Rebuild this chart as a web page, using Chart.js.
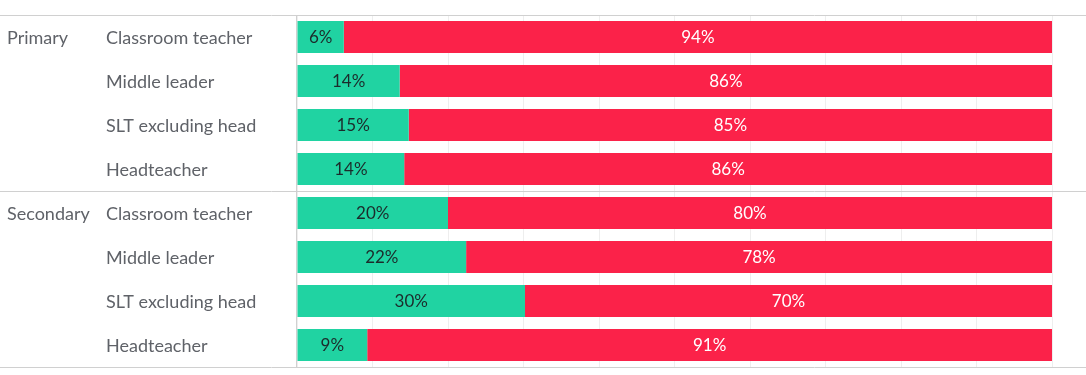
<!DOCTYPE html>
<html><head><meta charset="utf-8">
<script src="https://cdn.jsdelivr.net/npm/chart.js@4"></script>
<style>html,body{margin:0;padding:0;background:#fff}#wrap{width:1086px;height:375px;position:relative}</style>
</head><body><div id="wrap"><canvas id="c"></canvas></div>
<script>
const groups = ["Primary","Primary","Primary","Primary","Secondary","Secondary","Secondary","Secondary"];
const roles = ["Classroom teacher","Middle leader","SLT excluding head","Headteacher","Classroom teacher","Middle leader","SLT excluding head","Headteacher"];
const yesValues = [6.2,13.6,14.8,14.2,20.0,22.4,30.2,9.3];
const noValues = [93.8,86.4,85.2,85.8,80.0,77.6,69.8,90.7];
const xTicks = [0,10,20,30,40,50,60,70,80,90,100];

const FONT = "Lato, 'Open Sans', sans-serif";

const overlay = {
  id:'overlay',
  afterDatasetsDraw(chart){
    const ctx = chart.ctx, ca = chart.chartArea, ys = chart.scales.y;
    ctx.save();
    chart.data.datasets.forEach((ds,di)=>{
      const meta = chart.getDatasetMeta(di);
      meta.data.forEach((el,i)=>{
        const cx = (el.x + el.base)/2;
        ctx.font = "17px " + FONT;
        ctx.fillStyle = di===0 ? '#1c2b2b' : '#ffffff';
        ctx.textAlign='center'; ctx.textBaseline='middle';
        ctx.fillText(Math.round(ds.data[i]) + '%', cx, el.y+1);
      });
    });
    ctx.font = "18px " + FONT;
    ctx.fillStyle = '#5f6268';
    ctx.textAlign='left'; ctx.textBaseline='middle';
    roles.forEach((r,i)=>{
      const y = ys.getPixelForValue(i);
      ctx.fillText(r, 106, y+1.5);
      if(i===0 || groups[i]!==groups[i-1]) ctx.fillText(groups[i], 7, y+1.5);
    });
    ctx.strokeStyle = '#d0d0d0'; ctx.lineWidth = 1;
    const lines = [ca.top, ca.bottom];
    for(let i=1;i<groups.length;i++){ if(groups[i]!==groups[i-1]) lines.push((ys.getPixelForValue(i-1)+ys.getPixelForValue(i))/2); }
    lines.forEach(y=>{ const yy=Math.round(y)+0.5; ctx.beginPath(); ctx.moveTo(0,yy); ctx.lineTo(chart.width,yy); ctx.stroke(); });
    ctx.beginPath(); ctx.moveTo(Math.round(ca.left)-0.5, ca.top); ctx.lineTo(Math.round(ca.left)-0.5, ca.bottom); ctx.stroke();
    ctx.restore();
  }
};

new Chart(document.getElementById('c'), {
  type:'bar',
  data:{
    labels: roles.map((r,i)=>groups[i]+' '+r),
    datasets:[
      {label:'Yes', data:yesValues, backgroundColor:'#20d3a2', borderWidth:0, barPercentage:0.73, categoryPercentage:1},
      {label:'No', data:noValues, backgroundColor:'#fb2249', borderWidth:0, barPercentage:0.73, categoryPercentage:1}
    ]
  },
  options:{
    indexAxis:'y', responsive:true, maintainAspectRatio:false, animation:false,
    layout:{padding:{top:15,bottom:8,right:34,left:0}},
    plugins:{legend:{display:false}, tooltip:{enabled:false}},
    scales:{
      x:{stacked:true, min:0, max:100, afterBuildTicks(s){ s.ticks = xTicks.map(v=>({value:v})); },
         ticks:{display:false}, border:{display:false}, grid:{color:'#eeeeee', drawTicks:false}},
      y:{stacked:true, ticks:{display:false}, border:{display:false}, grid:{display:false, drawTicks:false},
         afterFit(s){ s.width = 297; }}
    }
  },
  plugins:[overlay]
});
</script></body></html>
